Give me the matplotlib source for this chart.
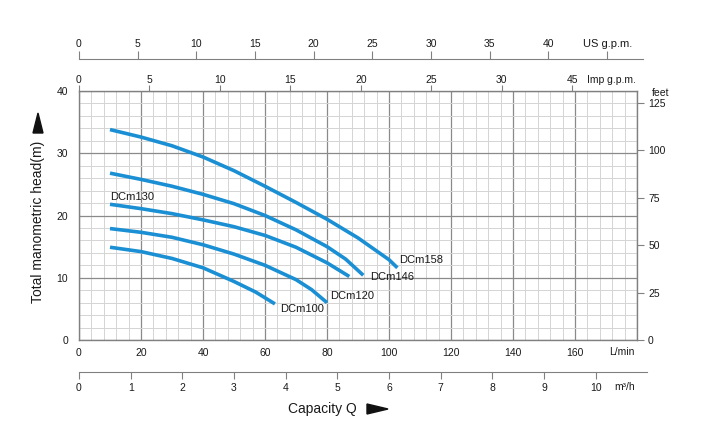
import numpy as np
import matplotlib.pyplot as plt
from matplotlib.patches import Polygon

plt.rcParams['font.family'] = ['Liberation Sans', 'DejaVu Sans']

# curvas: caudal (L/min) y altura (m)
q158 = [10, 20, 30, 40, 50, 60, 70, 80, 90, 100, 102.7]
h158 = [33.8, 32.6, 31.2, 29.4, 27.2, 24.7, 22.1, 19.4, 16.4, 12.9, 11.6]
q146 = [10, 20, 30, 40, 50, 60, 70, 80, 86, 91.7]
h146 = [26.8, 25.8, 24.7, 23.4, 21.9, 20.0, 17.7, 15.0, 13.0, 10.4]
q130 = [10, 20, 30, 40, 50, 60, 70, 80, 87.2]
h130 = [21.8, 21.1, 20.3, 19.3, 18.2, 16.8, 14.9, 12.4, 10.2]
q120 = [10, 20, 30, 40, 50, 60, 70, 75, 80]
h120 = [17.9, 17.3, 16.5, 15.3, 13.8, 12.0, 9.7, 8.1, 6.0]
q100 = [10, 20, 30, 40, 50, 57, 63.2]
h100 = [14.9, 14.2, 13.1, 11.6, 9.4, 7.7, 5.8]

names = ['DCm158', 'DCm146', 'DCm130', 'DCm120', 'DCm100']
label_pos = [(103.2, 12.9), (93.9, 10.1), (10.0, 23.0), (81.0, 7.1), (64.8, 5.0)]

lmin_ticks = [0, 20, 40, 60, 80, 100, 120, 140, 160]
head_ticks = [0, 10, 20, 30, 40]
feet_ticks = [0, 25, 50, 75, 100, 125]
us_ticks = [0, 5, 10, 15, 20, 25, 30, 35, 40, 45]
us_labels = ['0', '5', '10', '15', '20', '25', '30', '35', '40', '']
imp_ticks = [0, 5, 10, 15, 20, 25, 30, 35]
imp_labels = ['0', '5', '10', '15', '20', '25', '30', '45']
m3h_ticks = [0, 1, 2, 3, 4, 5, 6, 7, 8, 9, 10]

US = 3.785   # L/min por US gpm
IMP = 4.546  # L/min por Imp gpm
M3H = 16.667 # L/min por m3/h
FT = 3.2808

W, H = 708, 445
gray = '#808080'
txt = '#1a1a1a'
blue = '#1a8fd3'

fig = plt.figure(figsize=(W / 100, H / 100), dpi=100)

####### GRAFICA PRINCIPAL #######
ax = fig.add_axes([79 / W, 105 / H, 558 / W, 249 / H])
ax.set_xlim(0, 180)
ax.set_ylim(0, 40)
ax.set_xticks(np.arange(0, 181, 20))
ax.set_xticks(np.arange(0, 181, 4), minor=True)
ax.set_yticks(head_ticks)
ax.set_yticks(np.arange(0, 41, 2), minor=True)
ax.grid(which='major', color='#8a8a8a', lw=0.9)
ax.grid(which='minor', color='#d4d4d4', lw=0.7)
ax.set_axisbelow(True)
for s in ax.spines.values():
    s.set_color(gray)
    s.set_linewidth(1.0)
ax.set_xticklabels([str(t) if t in lmin_ticks else '' for t in range(0, 181, 20)])
ax.tick_params(which='both', length=0, labelsize=7.5, labelcolor=txt)
ax.tick_params(axis='x', pad=6)
ax.tick_params(axis='y', pad=8)

curves = [(q158, h158), (q146, h146), (q130, h130), (q120, h120), (q100, h100)]
for (q, h), name, (lx, ly) in zip(curves, names, label_pos):
    ax.plot(q, h, color=blue, lw=2.6, solid_capstyle='butt', solid_joinstyle='round')
    ax.text(lx, ly, name, fontsize=8, color=txt, va='center', ha='left')

# Imp g.p.m. arriba del grafico
imp = ax.secondary_xaxis('top', functions=(lambda q: q / IMP, lambda g: g * IMP))
imp.set_xticks(imp_ticks)
imp.set_xticklabels(imp_labels)
imp.tick_params(direction='out', length=4, color=gray, labelsize=7.5, labelcolor=txt, pad=0.5)
imp.spines['top'].set_visible(False)

# pies a la derecha
ft = ax.secondary_yaxis('right', functions=(lambda m: m * FT, lambda f: f / FT))
ft.set_yticks(feet_ticks)
ft.tick_params(direction='out', length=5, color=gray, labelsize=7.5, labelcolor=txt, pad=3)
ft.spines['right'].set_visible(False)

####### ESCALA US g.p.m. #######
ax_us = fig.add_axes([79 / W, (H - 59) / H - 0.002, 564 / W, 0.002])
ax_us.set_xlim(0, 564 / 558 * 180 / US)
ax_us.set_yticks([])
ax_us.patch.set_visible(False)
for k in ['bottom', 'left', 'right']:
    ax_us.spines[k].set_visible(False)
ax_us.spines['top'].set_color(gray)
ax_us.xaxis.tick_top()
ax_us.set_xticks(us_ticks)
ax_us.set_xticklabels(us_labels)
ax_us.tick_params(direction='out', length=6, color=gray, labelsize=7.5, labelcolor=txt, pad=1)

####### ESCALA m3/h #######
ax_m3 = fig.add_axes([79 / W, (H - 372) / H, 568 / W, 0.002])
ax_m3.set_xlim(0, 568 / 558 * 180 / M3H)
ax_m3.set_yticks([])
ax_m3.patch.set_visible(False)
for k in ['top', 'left', 'right']:
    ax_m3.spines[k].set_visible(False)
ax_m3.spines['bottom'].set_color(gray)
ax_m3.set_xticks(m3h_ticks)
ax_m3.tick_params(direction='out', length=5, color=gray, labelsize=7.5, labelcolor=txt, pad=3)

####### TEXTOS #######
def ftext(x, y, s, **kw):
    fig.text(x / W, 1 - y / H, s, color=txt, **kw)

ftext(583, 44, 'US g.p.m.', fontsize=8, va='center', ha='left')
ftext(587, 80, 'Imp g.p.m.', fontsize=7.5, va='center', ha='left')
ftext(652, 93, 'feet', fontsize=7.5, va='center', ha='left')
ftext(609, 352, 'L/min', fontsize=7.5, va='center', ha='left')
ftext(614, 387, 'm³/h', fontsize=7.5, va='center', ha='left')
ftext(288, 409, 'Capacity Q', fontsize=10, va='center', ha='left')
ftext(38, 222, 'Total manometric head(m)', fontsize=10, va='center', ha='center', rotation=90)

# flechas
tri_q = [(367, 404), (367, 414), (388, 409)]
tri_h = [(33, 133), (43, 133), (38, 113)]
for tri in [tri_q, tri_h]:
    fig.patches.append(Polygon([(x / W, 1 - y / H) for x, y in tri], closed=True,
                               transform=fig.transFigure, color='#111111'))

plt.savefig('out.png', dpi=100)
